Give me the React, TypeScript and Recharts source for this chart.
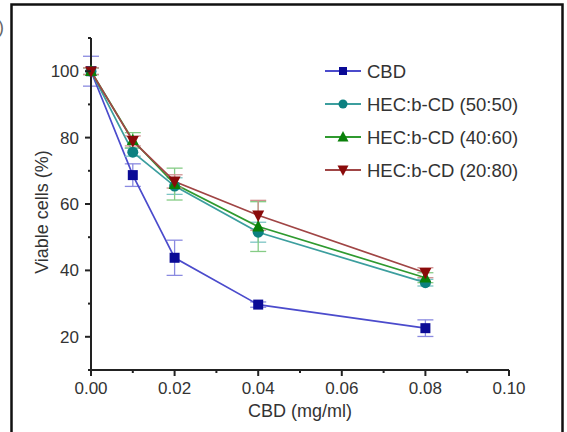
import React from 'react';
import { LineChart, Line, XAxis, YAxis, ErrorBar, Label } from 'recharts';

const concentrations = [0, 0.01, 0.02, 0.04, 0.08];
const seriesNames = ['CBD', 'HEC:b-CD (50:50)', 'HEC:b-CD (40:60)', 'HEC:b-CD (20:80)'];
const cbdValues = [100, 68.7, 43.8, 29.7, 22.6];
const cbdErrors = [4.5, 3.4, 5.3, 0.8, 2.5];
const hec5050Values = [100, 75.6, 65.4, 51.5, 36.3];
const hec5050Errors = [1, 1.2, 2.5, 3, 1];
const hec4060Values = [100, 79.2, 66.0, 53.2, 37.8];
const hec4060Errors = [1, 2.3, 4.8, 7.5, 1.5];
const hec2080Values = [100, 79.0, 66.8, 56.6, 39.3];
const hec2080Errors = [1, 1.5, 2, 4.5, 1.5];
const xTicks = [0, 0.01, 0.02, 0.03, 0.04, 0.05, 0.06, 0.07, 0.08, 0.09, 0.1];
const yTicks = [10, 20, 30, 40, 50, 60, 70, 80, 90, 100, 110];
const xMajor = [0, 0.02, 0.04, 0.06, 0.08, 0.1];
const yMajor = [20, 40, 60, 80, 100];

const data = concentrations.map((c, i) => ({
  x: c,
  cbd: cbdValues[i],
  cbdErr: cbdErrors[i],
  h50: hec5050Values[i],
  h50Err: hec5050Errors[i],
  h40: hec4060Values[i],
  h40Err: hec4060Errors[i],
  h20: hec2080Values[i],
  h20Err: hec2080Errors[i],
}));

const FONT = 'Liberation Sans, Arial, Helvetica, sans-serif';
const AXIS = '#222';

const isMajor = (v: number, list: number[]) => list.some((m) => Math.abs(m - v) < 1e-9);

const XTick = (props: any) => {
  const { x, y, payload } = props;
  const major = isMajor(payload.value, xMajor);
  return (
    <g>
      <line x1={x} x2={x} y1={y} y2={y + (major ? 6 : 3)} stroke={AXIS} strokeWidth={2} />
      {major && (
        <text x={x} y={y + 12} dy="0.71em" textAnchor="middle" fontSize={17} fill="#333" fontFamily={FONT}>
          {payload.value.toFixed(2)}
        </text>
      )}
    </g>
  );
};

const YTick = (props: any) => {
  const { x, y, payload } = props;
  const major = isMajor(payload.value, yMajor);
  return (
    <g>
      <line x1={x} x2={x - (major ? 6 : 3)} y1={y} y2={y} stroke={AXIS} strokeWidth={2} />
      {major && (
        <text x={x - 12} y={y} dy="0.355em" textAnchor="end" fontSize={17} fill="#333" fontFamily={FONT}>
          {payload.value}
        </text>
      )}
    </g>
  );
};

const Square = ({ cx, cy, fill, s = 10 }: any) => (
  <rect x={cx - s / 2} y={cy - s / 2} width={s} height={s} fill={fill} />
);
const Circle = ({ cx, cy, fill, r = 5.5 }: any) => <circle cx={cx} cy={cy} r={r} fill={fill} />;
const TriUp = ({ cx, cy, fill, s = 12 }: any) => (
  <polygon points={`${cx},${cy - s * 0.55} ${cx + s / 2},${cy + s * 0.4} ${cx - s / 2},${cy + s * 0.4}`} fill={fill} />
);
const TriDown = ({ cx, cy, fill, s = 12 }: any) => (
  <polygon points={`${cx},${cy + s * 0.55} ${cx + s / 2},${cy - s * 0.4} ${cx - s / 2},${cy - s * 0.4}`} fill={fill} />
);

const series = [
  { key: 'cbd', err: 'cbdErr', line: '#4b4bcc', marker: '#0a0a96', errColor: '#8a8ae0', Shape: Square },
  { key: 'h50', err: 'h50Err', line: '#3c9e9e', marker: '#0c8080', errColor: '#7cc4c4', Shape: Circle },
  { key: 'h40', err: 'h40Err', line: '#2f9a2f', marker: '#0a800a', errColor: '#86cc86', Shape: TriUp },
  { key: 'h20', err: 'h20Err', line: '#a04545', marker: '#8a0a0a', errColor: '#d09090', Shape: TriDown },
];

export default function App() {
  return (
    <div style={{ position: 'absolute', left: 0, top: 0, width: 567, height: 432, background: '#fff', overflow: 'hidden' }}>
      <LineChart width={567} height={432} data={data} margin={{ top: 38, right: 58, bottom: 0, left: 0 }}>
        <XAxis
          dataKey="x"
          type="number"
          domain={[0, 0.1]}
          ticks={xTicks}
          interval={0}
          height={62}
          tickSize={0}
          tickMargin={0}
          tickLine={false}
          axisLine={{ stroke: AXIS, strokeWidth: 2 }}
          tick={<XTick />}
        >
          <Label
            content={({ viewBox }: any) => (
              <text
                x={viewBox.x + viewBox.width / 2}
                y={viewBox.y + 47}
                textAnchor="middle"
                fontSize={18}
                fill="#333"
                fontFamily={FONT}
              >
                CBD (mg/ml)
              </text>
            )}
          />
        </XAxis>
        <YAxis
          type="number"
          domain={[10, 110]}
          ticks={yTicks}
          interval={0}
          width={91}
          tickSize={0}
          tickMargin={0}
          tickLine={false}
          axisLine={{ stroke: AXIS, strokeWidth: 2 }}
          tick={<YTick />}
        >
          <Label
            content={({ viewBox }: any) => {
              const cx = 48;
              const cy = viewBox.y + viewBox.height / 2 + 8;
              return (
                <text
                  x={cx}
                  y={cy}
                  transform={`rotate(-90 ${cx} ${cy})`}
                  textAnchor="middle"
                  fontSize={18}
                  fill="#333"
                  fontFamily={FONT}
                >
                  Viable cells (%)
                </text>
              );
            }}
          />
        </YAxis>
        {series.map((s) => (
          <Line
            key={s.key}
            dataKey={s.key}
            type="linear"
            stroke={s.line}
            strokeWidth={1.7}
            isAnimationActive={false}
            dot={(p: any) => <s.Shape key={`${s.key}-${p.index}`} cx={p.cx} cy={p.cy} fill={s.marker} />}
            activeDot={false}
          >
            <ErrorBar dataKey={s.err} direction="y" width={8} stroke={s.errColor} strokeWidth={1.3} />
          </Line>
        ))}
      </LineChart>
      <svg width={567} height={432} style={{ position: 'absolute', left: 0, top: 0, pointerEvents: 'none' }}>
        <rect x={11.5} y={4.5} width={551} height={440} fill="none" stroke="#111" strokeWidth={2.5} />
        <text x={-18} y={33} fontSize={18} fill="#666" fontFamily={FONT}>(b)</text>
        {series.map((s, i) => {
          const cy = 71 + i * 33;
          return (
            <g key={s.key}>
              <line x1={325} x2={361} y1={cy} y2={cy} stroke={s.line} strokeWidth={1.8} />
              <s.Shape cx={343} cy={cy} fill={s.marker} s={i === 0 ? 8 : 11} r={4.5} />
              <text x={367} y={cy} dy="0.355em" fontSize={18.5} fill="#333" fontFamily={FONT}>
                {seriesNames[i]}
              </text>
            </g>
          );
        })}
      </svg>
    </div>
  );
}
